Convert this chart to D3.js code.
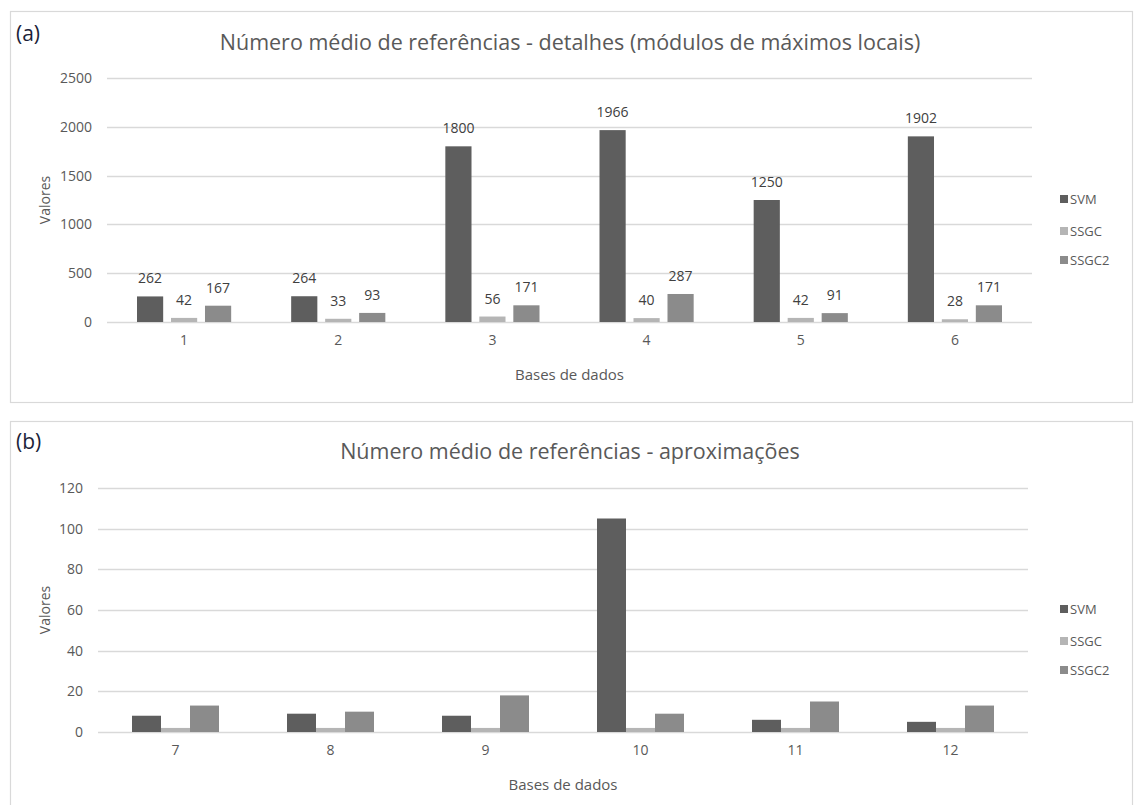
<!DOCTYPE html>
<html>
<head>
<meta charset="utf-8">
<script src="https://cdn.jsdelivr.net/npm/d3@7"></script>
<style>
  html, body { margin: 0; padding: 0; background: #fff; }
  svg { display: block; }
  text { font-family: "Open Sans", "Noto Sans", sans-serif; fill: #595959; }
</style>
</head>
<body>
<svg id="chart" width="1134" height="805"></svg>
<script>
// Series names and colours
const seriesNames = ["SVM", "SSGC", "SSGC2"];
const seriesColors = ["#5e5e5e", "#b5b5b5", "#8b8b8b"];

// Panel (a): detail coefficients
const basesA = ["1", "2", "3", "4", "5", "6"];
const svmA = [262, 264, 1800, 1966, 1250, 1902];
const ssgcA = [42, 33, 56, 40, 42, 28];
const ssgc2A = [167, 93, 171, 287, 91, 171];
const ticksA = [0, 500, 1000, 1500, 2000, 2500];

// Panel (b): approximation coefficients
const basesB = ["7", "8", "9", "10", "11", "12"];
const svmB = [8, 9, 8, 105, 6, 5];
const ssgcB = [2, 2, 2, 2, 2, 2];
const ssgc2B = [13, 10, 18, 9, 15, 13];
const ticksB = [0, 20, 40, 60, 80, 100, 120];

const svg = d3.select("#chart");

function drawPanel(cfg) {
  const g = svg.append("g");

  // frame
  g.append("rect")
    .attr("x", cfg.frame[0] + 0.5).attr("y", cfg.frame[1] + 0.5)
    .attr("width", cfg.frame[2]).attr("height", cfg.frame[3])
    .attr("fill", "#fff").attr("stroke", "#d9d9d9").attr("stroke-width", 1.2);

  // panel letter
  g.append("text")
    .attr("x", cfg.frame[0] + 6).attr("y", cfg.letterY)
    .attr("font-size", 21).style("fill", "#1c1f3a")
    .text(cfg.letter);

  // title
  g.append("text")
    .attr("x", cfg.titleX).attr("y", cfg.titleY)
    .attr("text-anchor", "middle").attr("font-size", 21.5)
    .text(cfg.title);

  const x0 = d3.scaleBand().domain(cfg.bases).range([cfg.left, cfg.right]).paddingInner(0);
  const x1 = d3.scaleBand().domain(seriesNames)
    .range([cfg.innerPad, x0.bandwidth() - cfg.innerPad])
    .paddingInner(cfg.barGap);
  const y = d3.scaleLinear().domain([0, d3.max(cfg.ticks)]).range([cfg.bottom, cfg.top]);

  // gridlines
  g.append("g").selectAll("line").data(cfg.ticks).join("line")
    .attr("x1", cfg.left).attr("x2", cfg.right)
    .attr("y1", d => Math.round(y(d)) + 0.5).attr("y2", d => Math.round(y(d)) + 0.5)
    .attr("stroke", "#d9d9d9").attr("stroke-width", 1.3);

  // y tick labels
  const yAxis = d3.axisLeft(y).tickValues(cfg.ticks).tickFormat(d3.format("d"))
    .tickSize(0).tickPadding(0);
  const ya = g.append("g").attr("transform", `translate(${cfg.yLabelX},0)`).call(yAxis);
  ya.select(".domain").remove();
  ya.selectAll("text").attr("font-size", 14).style("fill", "#595959")
    .style("font-family", '"Open Sans", sans-serif');

  // x tick labels
  const xAxis = d3.axisBottom(x0).tickSize(0).tickPadding(0);
  const xa = g.append("g").attr("transform", `translate(0,${cfg.bottom + 13})`).call(xAxis);
  xa.select(".domain").remove();
  xa.selectAll("text").attr("font-size", 14).style("fill", "#595959")
    .style("font-family", '"Open Sans", sans-serif');

  // bars
  const rows = cfg.bases.map((b, i) => ({
    base: b,
    vals: seriesNames.map((s, k) => ({ series: s, k, value: cfg.series[k][i] }))
  }));
  const grp = g.append("g").selectAll("g").data(rows).join("g")
    .attr("transform", d => `translate(${x0(d.base)},0)`);
  grp.selectAll("rect").data(d => d.vals).join("rect")
    .attr("x", d => x1(d.series))
    .attr("width", x1.bandwidth())
    .attr("y", d => y(d.value))
    .attr("height", d => y(0) - y(d.value))
    .attr("fill", d => seriesColors[d.k]);

  if (cfg.showLabels) {
    grp.selectAll("text.val").data(d => d.vals).join("text")
      .attr("class", "val")
      .attr("x", d => x1(d.series) + x1.bandwidth() / 2)
      .attr("y", d => y(d.value) - 13)
      .attr("text-anchor", "middle").attr("font-size", 14)
      .style("fill", "#404040")
      .text(d => d.value);
  }

  // axis titles
  g.append("text")
    .attr("x", (cfg.left + cfg.right) / 2).attr("y", cfg.bottom + 58)
    .attr("text-anchor", "middle").attr("font-size", 15)
    .text("Bases de dados");
  g.append("text")
    .attr("transform", `translate(${cfg.yTitleX},${(cfg.top + cfg.bottom) / 2}) rotate(-90)`)
    .attr("text-anchor", "middle").attr("font-size", 14)
    .text("Valores");

  // legend
  const lg = g.append("g").selectAll("g").data(seriesNames).join("g")
    .attr("transform", (d, i) => `translate(1060,${cfg.legendY[i]})`);
  lg.append("rect").attr("x", 0).attr("y", -4).attr("width", 8).attr("height", 8)
    .attr("fill", (d, i) => seriesColors[i]);
  lg.append("text").attr("x", 10).attr("y", 5).attr("font-size", 13)
    .text(d => d);
}

drawPanel({
  frame: [10, 11, 1122, 391],
  letter: "(a)", letterY: 41,
  title: "Número médio de referências - detalhes (módulos de máximos locais)",
  titleX: 570, titleY: 50,
  bases: basesA, series: [svmA, ssgcA, ssgc2A], ticks: ticksA,
  left: 107, right: 1032, top: 78, bottom: 322,
  innerPad: 30, barGap: 0.23,
  yLabelX: 92, yTitleX: 50,
  showLabels: true,
  legendY: [199, 231, 260]
});

drawPanel({
  frame: [10, 421, 1122, 400],
  letter: "(b)", letterY: 449,
  title: "Número médio de referências - aproximações",
  titleX: 570, titleY: 459,
  bases: basesB, series: [svmB, ssgcB, ssgc2B], ticks: ticksB,
  left: 98, right: 1028, top: 488, bottom: 732,
  innerPad: 34, barGap: 0,
  yLabelX: 83, yTitleX: 50,
  showLabels: false,
  legendY: [609, 641, 670]
});
</script>
</body>
</html>
